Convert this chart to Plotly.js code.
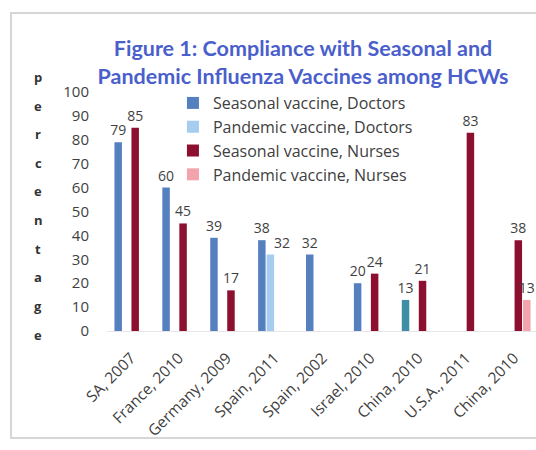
<!DOCTYPE html>
<html>
<head>
<meta charset="utf-8">
<script src="https://cdn.plot.ly/plotly-3.0.1.min.js"></script>
<style>
  html, body { margin: 0; padding: 0; width: 536px; height: 450px; overflow: hidden; background: #ffffff; position: relative; }
  #frame {
    position: absolute; left: 10px; top: 12px;
    width: 540px; height: 423px;
    border-top: 2px solid #d6d6d6; border-left: 2px solid #d6d6d6; border-bottom: 2px solid #d6d6d6;
    background: #ffffff; z-index: 0;
  }
  #chart { position: absolute; left: 12px; top: 14px; width: 540px; height: 436px; z-index: 1; }
</style>
</head>
<body>
<div id="frame"></div>
<div id="chart"></div>
<script>
// Study / year labels along the x axis
const studies = ["SA, 2007", "France, 2010", "Germany, 2009", "Spain, 2011", "Spain, 2002",
                 "Israel, 2010", "China, 2010", "U.S.A., 2011", "China, 2010"];

// Vaccination compliance (%) per study; null = not reported
const seasonalDoctors = [79, 60, 39, 38, 32, 20, 13, null, null];
const pandemicDoctors = [null, null, null, 32, null, null, null, null, null];
const seasonalNurses  = [85, 45, 17, null, null, 24, 21, 83, 38];
const pandemicNurses  = [null, null, null, null, null, null, null, null, 13];

const seriesNames = ["Seasonal vaccine, Doctors", "Pandemic vaccine, Doctors",
                     "Seasonal vaccine, Nurses", "Pandemic vaccine, Nurses"];

const yTicks = [0, 10, 20, 30, 40, 50, 60, 70, 80, 90, 100];
const yTitle = "percentage";

const FONT = "'Open Sans', Lato, sans-serif";
const idx = studies.map((_, i) => i);
const textFont = { family: FONT, size: 14, color: "#3f3f3f" };
const labelOf = v => (v == null ? "" : String(v));

function barTrace(name, values, color, showText) {
  return {
    type: "bar", name: name, x: idx, y: values,
    text: values.map(labelOf), textposition: showText ? "outside" : "none", cliponaxis: false,
    constraintext: "none", textfont: textFont,
    marker: { color: color, line: { width: 0 } },
    hoverinfo: "skip"
  };
}

// The China 2010 doctors bar is drawn in a teal shade
const seasonalDoctorColors = seasonalDoctors.map((v, i) => (i === 6 ? "#3e8ea6" : "#5580c0"));

const traces = [
  barTrace(seriesNames[0], seasonalDoctors, seasonalDoctorColors, true),
  barTrace(seriesNames[1], pandemicDoctors, "#a6cdf0", false),
  barTrace(seriesNames[2], seasonalNurses, "#8c0f30", true),
  barTrace(seriesNames[3], pandemicNurses, "#f2a3ab", true)
];

// Pandemic-doctor values are labelled a little to the right so they clear the
// seasonal label on the neighbouring bar
const pandemicDoctorLabels = [];
pandemicDoctors.forEach((v, i) => {
  if (v == null) return;
  pandemicDoctorLabels.push({
    text: String(v), x: i, y: v, xref: "x", yref: "y",
    xanchor: "center", yanchor: "bottom", xshift: 7, yshift: 1, showarrow: false,
    font: textFont
  });
});

// Vertical axis title: one letter per row, spread down the left side
const letterTop = 1.063, letterBottom = -0.015;
const letters = yTitle.split("");
const titleLetters = letters.map((ch, i) => ({
  text: ch, xref: "paper", yref: "paper", x: -0.16,
  y: letterTop - i * (letterTop - letterBottom) / (letters.length - 1),
  xanchor: "center", yanchor: "middle", showarrow: false,
  font: { family: FONT, size: 13, color: "#333333", weight: "bold" }
}));

const layout = {
  width: 540, height: 436,
  margin: { l: 95, r: 14, t: 78, b: 118.6 },
  paper_bgcolor: "rgba(0,0,0,0)", plot_bgcolor: "rgba(0,0,0,0)",
  font: { family: FONT, color: "#3f3f3f" },
  title: {
    text: "Figure 1: Compliance with Seasonal and<br>Pandemic Influenza Vaccines among HCWs",
    font: { family: "Lato, 'Open Sans', sans-serif", size: 21.5, color: "#4a5fcc", weight: "bold" },
    x: 0.539, xanchor: "center", xref: "container",
    y: 0.903, yanchor: "top", yref: "container"
  },
  barmode: "group", bargap: 0.29, bargroupgap: 0.12,
  xaxis: {
    range: [-0.5, 8.5], tickmode: "array", tickvals: idx, ticktext: studies,
    tickangle: -45, tickfont: { family: FONT, size: 15.5, color: "#3f3f3f" }, ticklabelstandoff: 11,
    showgrid: false, zeroline: false, showline: true, linecolor: "#e6e6e6", linewidth: 1,
    ticks: "", fixedrange: true
  },
  yaxis: {
    range: [0, 100], tickmode: "array", tickvals: yTicks, ticktext: yTicks.map(String),
    tickfont: { family: FONT, size: 15, color: "#3f3f3f" }, ticklabelstandoff: 17,
    showgrid: false, zeroline: false, showline: false, ticks: "", fixedrange: true
  },
  legend: {
    x: 0.153, xanchor: "left", y: 1.025, yanchor: "top",
    bgcolor: "rgba(0,0,0,0)", font: { family: FONT, size: 16, color: "#404040" },
    itemclick: false, itemdoubleclick: false
  },
  annotations: titleLetters.concat(pandemicDoctorLabels),
  showlegend: true
};

Plotly.newPlot("chart", traces, layout, { staticPlot: true, displayModeBar: false });
</script>
</body>
</html>
